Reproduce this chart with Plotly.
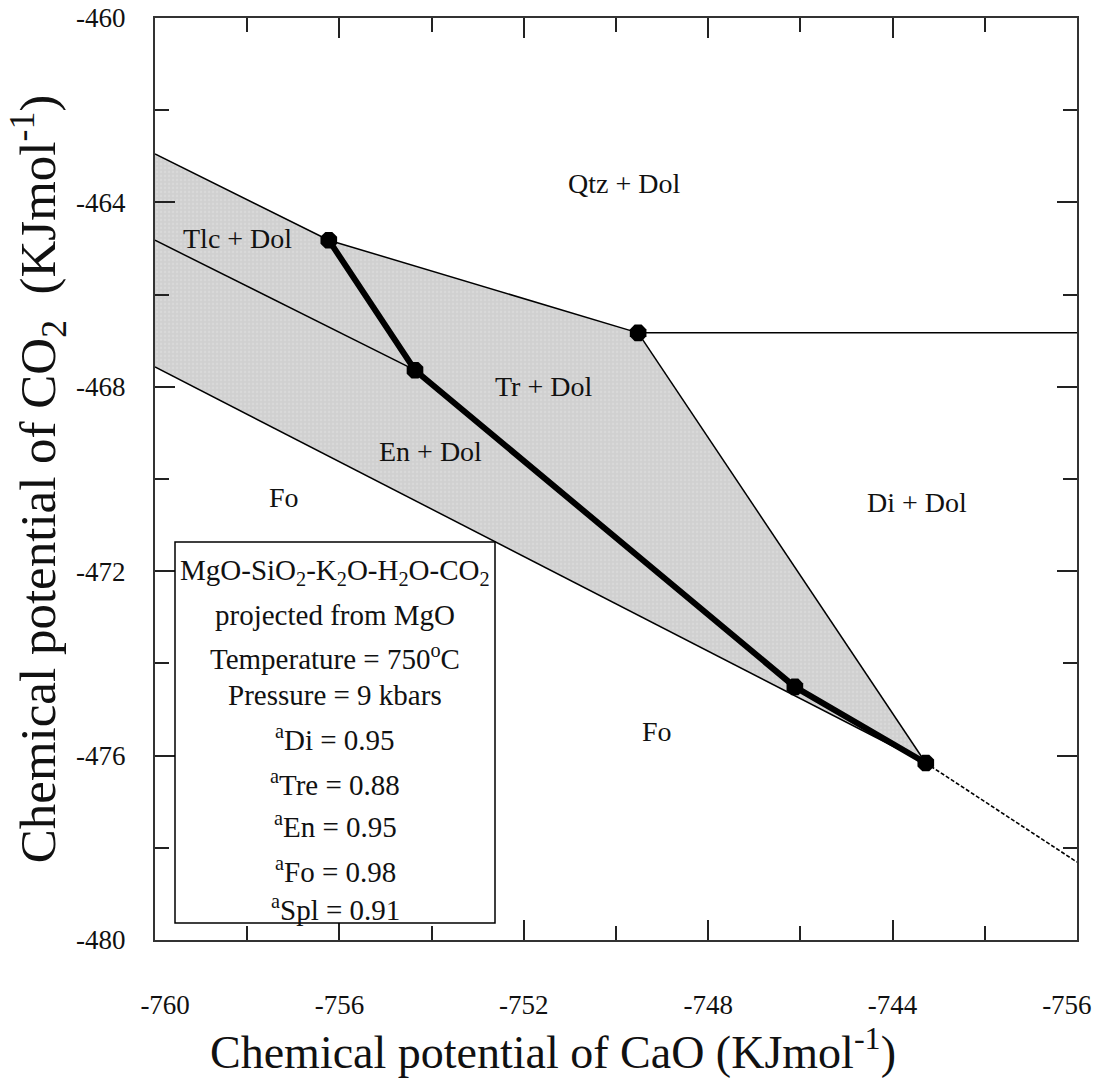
import plotly.graph_objects as go

# ---------------- data ----------------
# invariant points (CaO potential, CO2 potential)
pt_x = [-756.23, -754.36, -749.52, -746.12, -743.28]
pt_y = [-464.82, -467.64, -466.83, -474.51, -476.16]

# boundary curves
upper_x = [-760.0, -756.23, -749.52]
upper_y = [-462.95, -464.82, -466.83]
horiz_x = [-749.52, -740.0]
horiz_y = [-466.83, -466.83]
tlc_x = [-760.0, -754.36]
tlc_y = [-464.82, -467.64]
lower_x = [-760.0, -743.28]
lower_y = [-467.57, -476.16]
ext_x = [-743.28, -740.0]
ext_y = [-476.16, -478.31]
right_x = [-749.52, -743.28]
right_y = [-466.83, -476.16]
thick_x = [-756.23, -754.36, -746.12, -743.28]
thick_y = [-464.82, -467.64, -474.51, -476.16]

# shaded field
field_x = [-760.0, -756.23, -749.52, -743.28, -760.0]
field_y = [-462.95, -464.82, -466.83, -476.16, -467.57]

# field labels
field_labels = ["Qtz + Dol", "Tlc + Dol", "Tr + Dol", "En + Dol", "Fo", "Di + Dol", "Fo"]
field_lx = [-749.83, -758.22, -751.58, -754.03, -757.20, -743.46, -749.11]
field_ly = [-463.58, -464.79, -468.00, -469.41, -470.41, -470.50, -475.47]

# axis ticks
x_tickvals = [-760, -756, -752, -748, -744, -740]
x_ticktext = ["\u00a0\u00a0\u00a0-760", "-756", "-752", "-748", "-744", "-756\u00a0\u00a0\u00a0"]
x_minor = [-758, -754, -750, -746, -742]
y_tickvals = [-480, -476, -472, -468, -464, -460]
y_ticktext = ["-480", "-476", "-472", "-468", "-464", "-460"]
y_minor = [-478, -474, -470, -466, -462]

info_lines = [
    "MgO-SiO<sub>2</sub>-K<sub>2</sub>O-H<sub>2</sub>O-CO<sub>2</sub>",
    "projected from MgO",
    "Temperature = 750<sup>o</sup>C",
    "Pressure = 9 kbars",
    "<sup>a</sup>Di = 0.95",
    "<sup>a</sup>Tre = 0.88",
    "<sup>a</sup>En = 0.95",
    "<sup>a</sup>Fo = 0.98",
    "<sup>a</sup>Spl = 0.91",
]

# ---------------- figure ----------------
FONT = "Liberation Serif, Times New Roman, serif"
TXT = "#111111"
W, H = 1096, 1079
ML, MR, MT, MB = 155, 19, 18, 139
PW, PH = W - ML - MR, H - MT - MB

fig = go.Figure()

fig.add_trace(go.Scatter(x=field_x, y=field_y, fill="toself", mode="lines",
                         fillcolor="rgb(208,208,208)",
                         fillpattern=dict(shape=".", bgcolor="rgb(208,208,208)",
                                          fgcolor="rgb(226,226,226)", size=4, solidity=0.25),
                         line=dict(width=0),
                         hoverinfo="skip", showlegend=False))

thin = dict(color="black", width=1.5)
for xs, ys in [(upper_x, upper_y), (horiz_x, horiz_y), (tlc_x, tlc_y),
               (lower_x, lower_y), (right_x, right_y)]:
    fig.add_trace(go.Scatter(x=xs, y=ys, mode="lines", line=thin, showlegend=False))

fig.add_trace(go.Scatter(x=ext_x, y=ext_y, mode="lines",
                         line=dict(color="black", width=1.6, dash="4px,2px"), showlegend=False))

fig.add_trace(go.Scatter(x=thick_x, y=thick_y, mode="lines",
                         line=dict(color="black", width=6), showlegend=False))

fig.add_trace(go.Scatter(x=pt_x, y=pt_y, mode="markers",
                         marker=dict(symbol="octagon", size=18, color="black"),
                         showlegend=False))

annotations = []
for t, lx, ly in zip(field_labels, field_lx, field_ly):
    annotations.append(dict(x=lx, y=ly, xref="x", yref="y", text=t, showarrow=False,
                            font=dict(family=FONT, size=28, color=TXT)))

# info box text lines (pixel centres converted to paper coords)
line_pix_y = [572, 615, 657, 695, 738, 783, 825, 870, 908]
box_cx = 335
for t, py in zip(info_lines, line_pix_y):
    annotations.append(dict(x=(box_cx - ML) / PW, y=(MT + PH - py) / PH,
                            xref="paper", yref="paper", text=t, showarrow=False,
                            xanchor="center", yanchor="middle",
                            font=dict(family=FONT, size=29, color=TXT)))

# x-axis title
annotations.append(dict(x=(553 - ML) / PW, y=-(1049 - (MT + PH)) / PH,
                        xref="paper", yref="paper",
                        text="Chemical potential of CaO (KJmol<sup>-1</sup>)",
                        showarrow=False, xanchor="center", yanchor="middle",
                        font=dict(family=FONT, size=46, color=TXT)))

shapes = [dict(type="rect", xref="paper", yref="paper",
               x0=(175 - ML) / PW, x1=(495 - ML) / PW,
               y0=(MT + PH - 923) / PH, y1=(MT + PH - 542) / PH,
               line=dict(color="black", width=1.5), fillcolor="white", layer="above")]

axis_common = dict(showline=True, linecolor="#333333", linewidth=2, mirror="allticks",
                   ticks="inside", ticklen=20, tickwidth=1.5, tickcolor="#222222",
                   showgrid=False, zeroline=False, automargin=False,
                   tickfont=dict(family=FONT, size=27, color=TXT))

fig.update_layout(
    width=W, height=H,
    margin=dict(l=ML, r=MR, t=MT, b=MB, autoexpand=False),
    paper_bgcolor="white", plot_bgcolor="white",
    showlegend=False,
    annotations=annotations,
    shapes=shapes,
    xaxis=dict(range=[-760, -740], tickmode="array", tickvals=x_tickvals, ticktext=x_ticktext,
               minor=dict(tickmode="array", tickvals=x_minor, ticks="inside", ticklen=14,
                          tickwidth=1.5, tickcolor="#222222"),
               ticklabelstandoff=40, ticklabeloverflow="allow", **axis_common),
    yaxis=dict(range=[-480, -460], tickmode="array", tickvals=y_tickvals, ticktext=y_ticktext,
               minor=dict(tickmode="array", tickvals=y_minor, ticks="inside", ticklen=14,
                          tickwidth=1.5, tickcolor="#222222"),
               ticklabelstandoff=22,
               title=dict(text="Chemical potential of CO<sub>2</sub>  (KJmol<sup>-1</sup>)",
                          font=dict(family=FONT, size=51, color=TXT), standoff=4),
               **axis_common),
)

fig.write_html("out.html")
